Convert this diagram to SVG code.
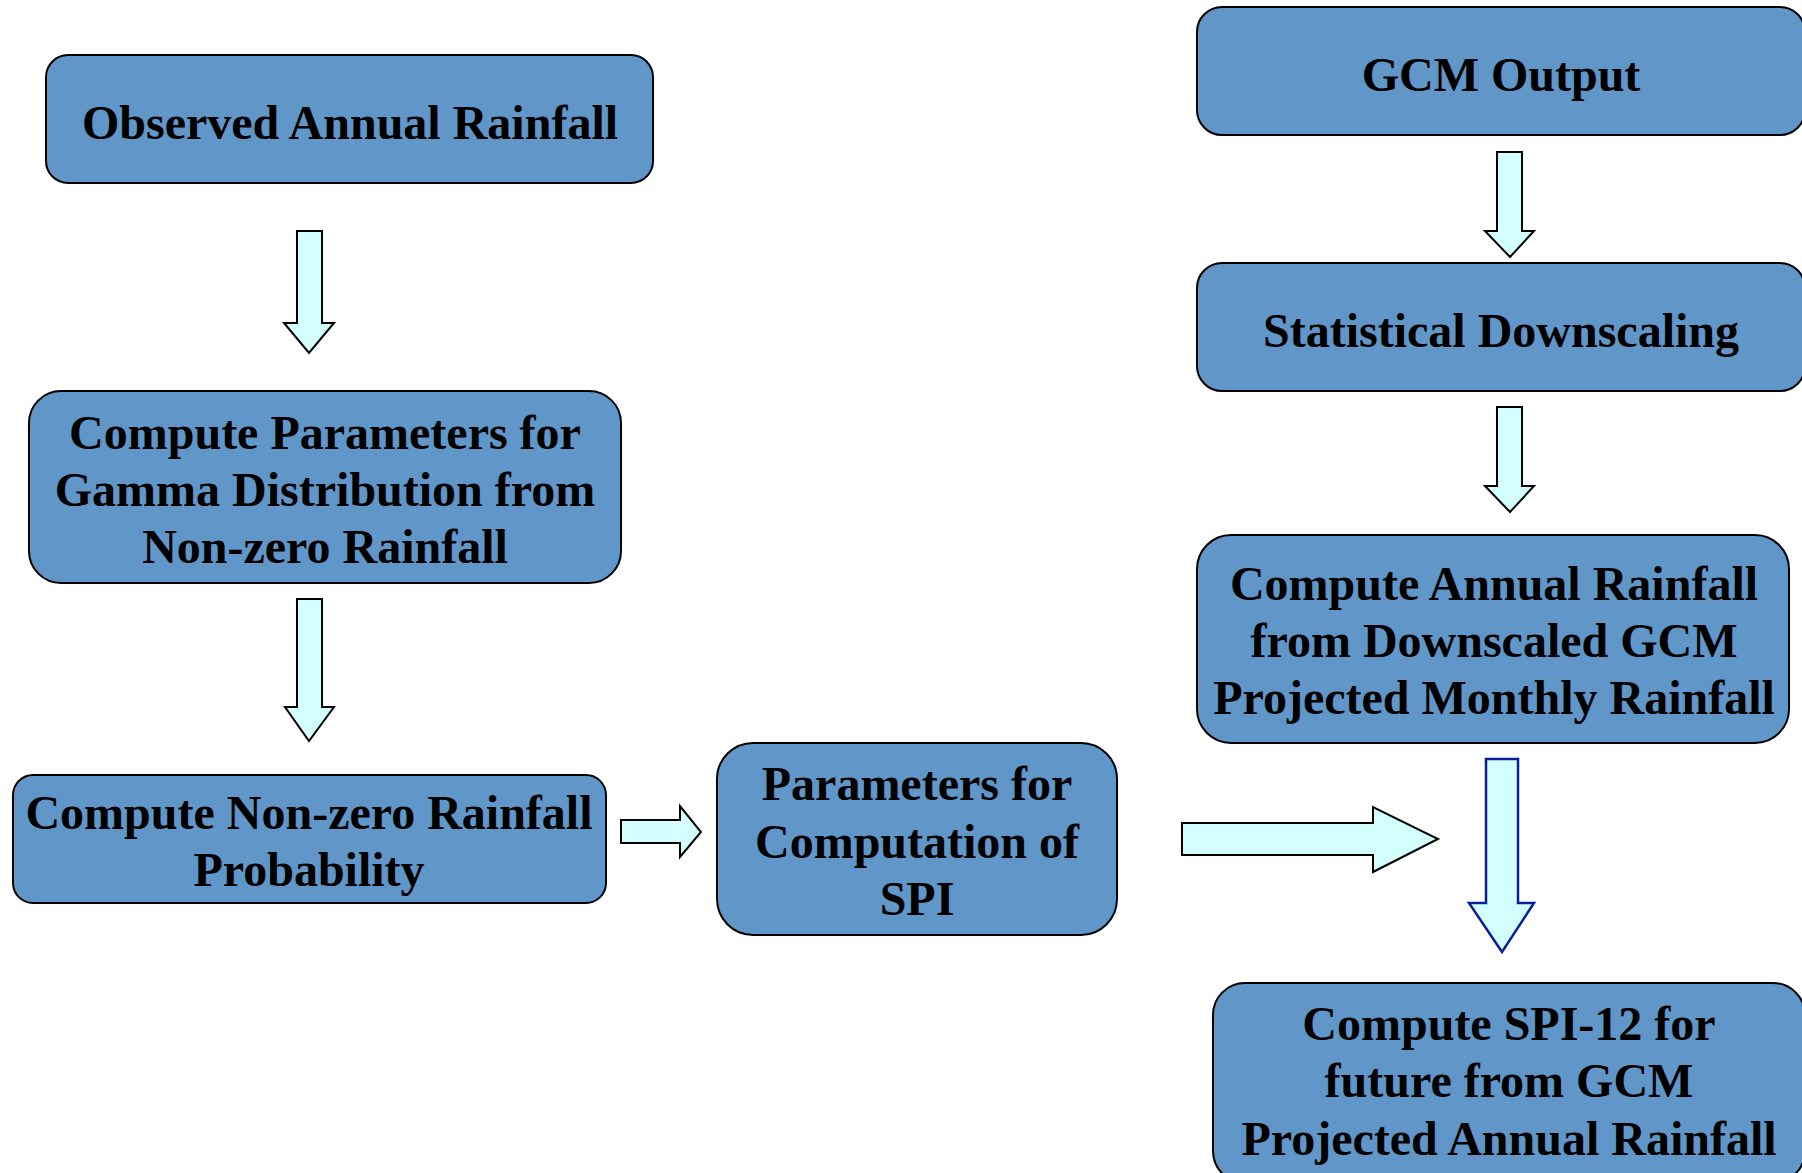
<svg xmlns="http://www.w3.org/2000/svg" width="1802" height="1173" viewBox="0 0 1802 1173">
<style>
.box{fill:#6096C8;stroke:#000;stroke-width:2}
.t{font-family:"Liberation Serif","Times New Roman",serif;font-weight:bold;font-size:48px;fill:#000;text-anchor:middle}
.arr{fill:#D4FFFF;stroke:#000;stroke-width:2;stroke-linejoin:miter}
.arrb{fill:#D4FFFF;stroke:#0A1E9A;stroke-width:2.5;stroke-linejoin:miter}
</style>
<rect width="1802" height="1173" fill="#fff"/>
<g id="observed">
<rect class="box" x="46" y="55" width="607" height="128" rx="22"/>
<text class="t" x="350" y="139">Observed Annual Rainfall</text>
</g>
<g id="gamma">
<rect class="box" x="29" y="391" width="592" height="192" rx="32"/>
<text class="t" x="325" y="449">Compute Parameters for</text>
<text class="t" x="325" y="506">Gamma Distribution from</text>
<text class="t" x="325" y="563">Non-zero Rainfall</text>
</g>
<g id="prob">
<rect class="box" x="13" y="775" width="593" height="128" rx="20"/>
<text class="t" x="309" y="829">Compute Non-zero Rainfall</text>
<text class="t" x="309" y="886">Probability</text>
</g>
<g id="params">
<rect class="box" x="717" y="743" width="400" height="192" rx="36"/>
<text class="t" x="917" y="800">Parameters for</text>
<text class="t" x="917" y="858">Computation of</text>
<text class="t" x="917" y="915">SPI</text>
</g>
<g id="gcm">
<rect class="box" x="1197" y="7" width="608" height="128" rx="25"/>
<text class="t" x="1501" y="91">GCM Output</text>
</g>
<g id="downscaling">
<rect class="box" x="1197" y="263" width="608" height="128" rx="25"/>
<text class="t" x="1501" y="347">Statistical Downscaling</text>
</g>
<g id="annual">
<rect class="box" x="1197" y="535" width="592" height="208" rx="34"/>
<text class="t" x="1494" y="600">Compute Annual Rainfall</text>
<text class="t" x="1494" y="657">from Downscaled GCM</text>
<text class="t" x="1494" y="714">Projected Monthly Rainfall</text>
</g>
<g id="spi12">
<rect class="box" x="1213" y="983" width="592" height="200" rx="32"/>
<text class="t" x="1509" y="1040">Compute SPI-12 for</text>
<text class="t" x="1509" y="1097">future from GCM</text>
<text class="t" x="1509" y="1155">Projected Annual Rainfall</text>
</g>
<g id="connectors">
<polygon class="arr" points="297,231 322,231 322,323 334,323 309,353 284,323 297,323"/>
<polygon class="arr" points="297,599 322,599 322,707 334,707 309,741 285,707 297,707"/>
<polygon class="arr" points="621,820 680,820 680,806 701,832 680,857 680,843 621,843"/>
<polygon class="arr" points="1182,823 1373,823 1373,807 1438,839 1373,872 1373,855 1182,855"/>
<polygon class="arr" points="1497,152 1522,152 1522,231 1534,231 1510,257 1485,231 1497,231"/>
<polygon class="arr" points="1497,407 1522,407 1522,486 1534,486 1510,512 1485,486 1497,486"/>
<polygon class="arrb" points="1486,759 1518,759 1518,903 1534,903 1502,952 1469,903 1486,903"/>
</g>
</svg>
